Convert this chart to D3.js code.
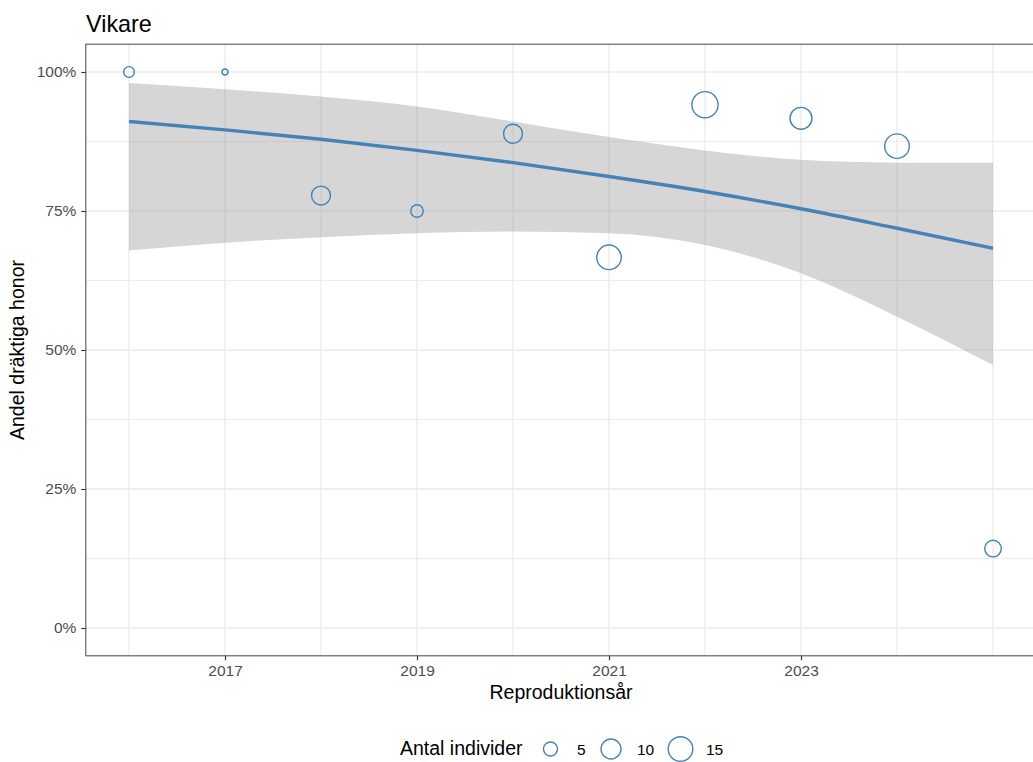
<!DOCTYPE html>
<html>
<head>
<meta charset="utf-8">
<script src="https://cdn.jsdelivr.net/npm/d3@7"></script>
<style>
  html, body { margin: 0; padding: 0; background: #ffffff; }
  svg { display: block; font-family: "Liberation Sans", Arial, Helvetica, sans-serif; }
</style>
</head>
<body>
<svg id="chart" width="1033" height="762"></svg>
<script>
// Reproduction year, number of pregnant females and number of sampled females
const years    = [2016, 2017, 2018, 2019, 2020, 2021, 2022, 2023, 2024, 2025];
const pregnant = [3, 1, 7, 3, 8, 10, 16, 11, 13, 1];
const sampled  = [3, 1, 9, 4, 9, 15, 17, 12, 15, 7];

// Fitted trend (binomial smoother) with its confidence band, per year
const fitYears = [2016, 2017, 2018, 2019, 2020, 2021, 2022, 2023, 2024, 2025];
const fitMean  = [0.911, 0.896, 0.879, 0.859, 0.837, 0.812, 0.785, 0.754, 0.719, 0.683];
const fitUpper = [0.980, 0.969, 0.956, 0.938, 0.911, 0.883, 0.859, 0.842, 0.837, 0.837];
const fitLower = [0.679, 0.693, 0.703, 0.710, 0.713, 0.710, 0.689, 0.638, 0.560, 0.473];

const xMajor = [2017, 2019, 2021, 2023];
const xMinor = [2016, 2018, 2020, 2022, 2024, 2025];
const yMajor = [0, 0.25, 0.5, 0.75, 1];
const yMinor = [0.125, 0.375, 0.625, 0.875];
const legendSizes = [5, 10, 15];

const svg = d3.select("#chart");
const blue = "#4682b4";
const grid = "#ebebeb";

const x = d3.scaleLinear().domain([2016, 2025]).range([129, 993]);
const y = d3.scaleLinear().domain([0, 1]).range([628, 72]);
const r = d3.scaleSqrt().domain([1, 17]).range([3.0, 13.1]);

// panel extent (5% expansion of the data range)
const px0 = x(2015.55), px1 = x(2025.45);
const py0 = y(1.05), py1 = y(-0.05);

const defs = svg.append("defs");
defs.append("clipPath").attr("id", "panel")
  .append("rect").attr("x", px0).attr("y", py0)
  .attr("width", px1 - px0).attr("height", py1 - py0);

const panel = svg.append("g").attr("clip-path", "url(#panel)");

// grid lines
panel.selectAll(".ymin").data(yMinor).join("line")
  .attr("x1", px0).attr("x2", px1).attr("y1", d => y(d)).attr("y2", d => y(d))
  .attr("stroke", grid).attr("stroke-width", 1);
panel.selectAll(".xmin").data(xMinor).join("line")
  .attr("y1", py0).attr("y2", py1).attr("x1", d => x(d)).attr("x2", d => x(d))
  .attr("stroke", grid).attr("stroke-width", 1.3);
panel.selectAll(".ymaj").data(yMajor).join("line")
  .attr("x1", px0).attr("x2", px1).attr("y1", d => y(d)).attr("y2", d => y(d))
  .attr("stroke", grid).attr("stroke-width", 1.4);
panel.selectAll(".xmaj").data(xMajor).join("line")
  .attr("y1", py0).attr("y2", py1).attr("x1", d => x(d)).attr("x2", d => x(d))
  .attr("stroke", grid).attr("stroke-width", 1.4);

// confidence band
const fit = fitYears.map((yr, i) => ({ yr, m: fitMean[i], lo: fitLower[i], hi: fitUpper[i] }));
panel.append("path").datum(fit)
  .attr("d", d3.area().x(d => x(d.yr)).y0(d => y(d.lo)).y1(d => y(d.hi)).curve(d3.curveMonotoneX))
  .attr("fill", "#999999").attr("fill-opacity", 0.4);

// fitted line
panel.append("path").datum(fit)
  .attr("d", d3.line().x(d => x(d.yr)).y(d => y(d.m)).curve(d3.curveMonotoneX))
  .attr("fill", "none").attr("stroke", blue).attr("stroke-width", 3.4);

// observed proportions, sized by number of individuals
const obs = years.map((yr, i) => ({ yr, p: pregnant[i] / sampled[i], n: sampled[i] }));
panel.selectAll(".pt").data(obs).join("circle")
  .attr("cx", d => x(d.yr)).attr("cy", d => y(d.p)).attr("r", d => r(d.n))
  .attr("fill", "none").attr("stroke", blue).attr("stroke-width", 1.4);

// panel border
svg.append("rect").attr("x", px0).attr("y", py0)
  .attr("width", px1 - px0).attr("height", py1 - py0)
  .attr("fill", "none").attr("stroke", "#555555").attr("stroke-width", 1.1);

// axes
const yAxis = svg.append("g").attr("transform", `translate(${px0},0)`)
  .call(d3.axisLeft(y).tickValues(yMajor).tickFormat(d3.format(".0%")).tickSize(4.5).tickPadding(5));
const xAxis = svg.append("g").attr("transform", `translate(0,${py1})`)
  .call(d3.axisBottom(x).tickValues(xMajor).tickFormat(d3.format("d")).tickSize(4.5).tickPadding(5));
[yAxis, xAxis].forEach(a => {
  a.select(".domain").remove();
  a.selectAll(".tick line").attr("stroke", "#333333").attr("stroke-width", 1.1);
  a.selectAll(".tick text").attr("fill", "#4d4d4d")
    .style("font-family", "Liberation Sans, Arial, sans-serif").style("font-size", "15.5px");
});

// titles
svg.append("text").attr("x", 86).attr("y", 31.5)
  .attr("font-size", 23.4).attr("fill", "#000").text("Vikare");
svg.append("text").attr("x", (px0 + px1) / 2).attr("y", 698.5)
  .attr("text-anchor", "middle").attr("font-size", 19.5).attr("fill", "#000")
  .text("Reproduktionsår");
svg.append("text").attr("transform", `translate(24,${(py0 + py1) / 2}) rotate(-90)`)
  .attr("text-anchor", "middle").attr("font-size", 19.5).attr("fill", "#000")
  .text("Andel dräktiga honor");

// size legend
const lg = svg.append("g");
lg.append("text").attr("x", 400).attr("y", 755)
  .attr("font-size", 19.5).attr("fill", "#000").text("Antal individer");
const legendX = [550.5, 611, 680.5];
const labelX = [577, 637, 706];
legendSizes.forEach((s, i) => {
  lg.append("circle").attr("cx", legendX[i]).attr("cy", 749).attr("r", r(s))
    .attr("fill", "none").attr("stroke", blue).attr("stroke-width", 1.4);
  lg.append("text").attr("x", labelX[i]).attr("y", 754.5)
    .attr("font-size", 15.5).attr("fill", "#000").text(s);
});
</script>
</body>
</html>
